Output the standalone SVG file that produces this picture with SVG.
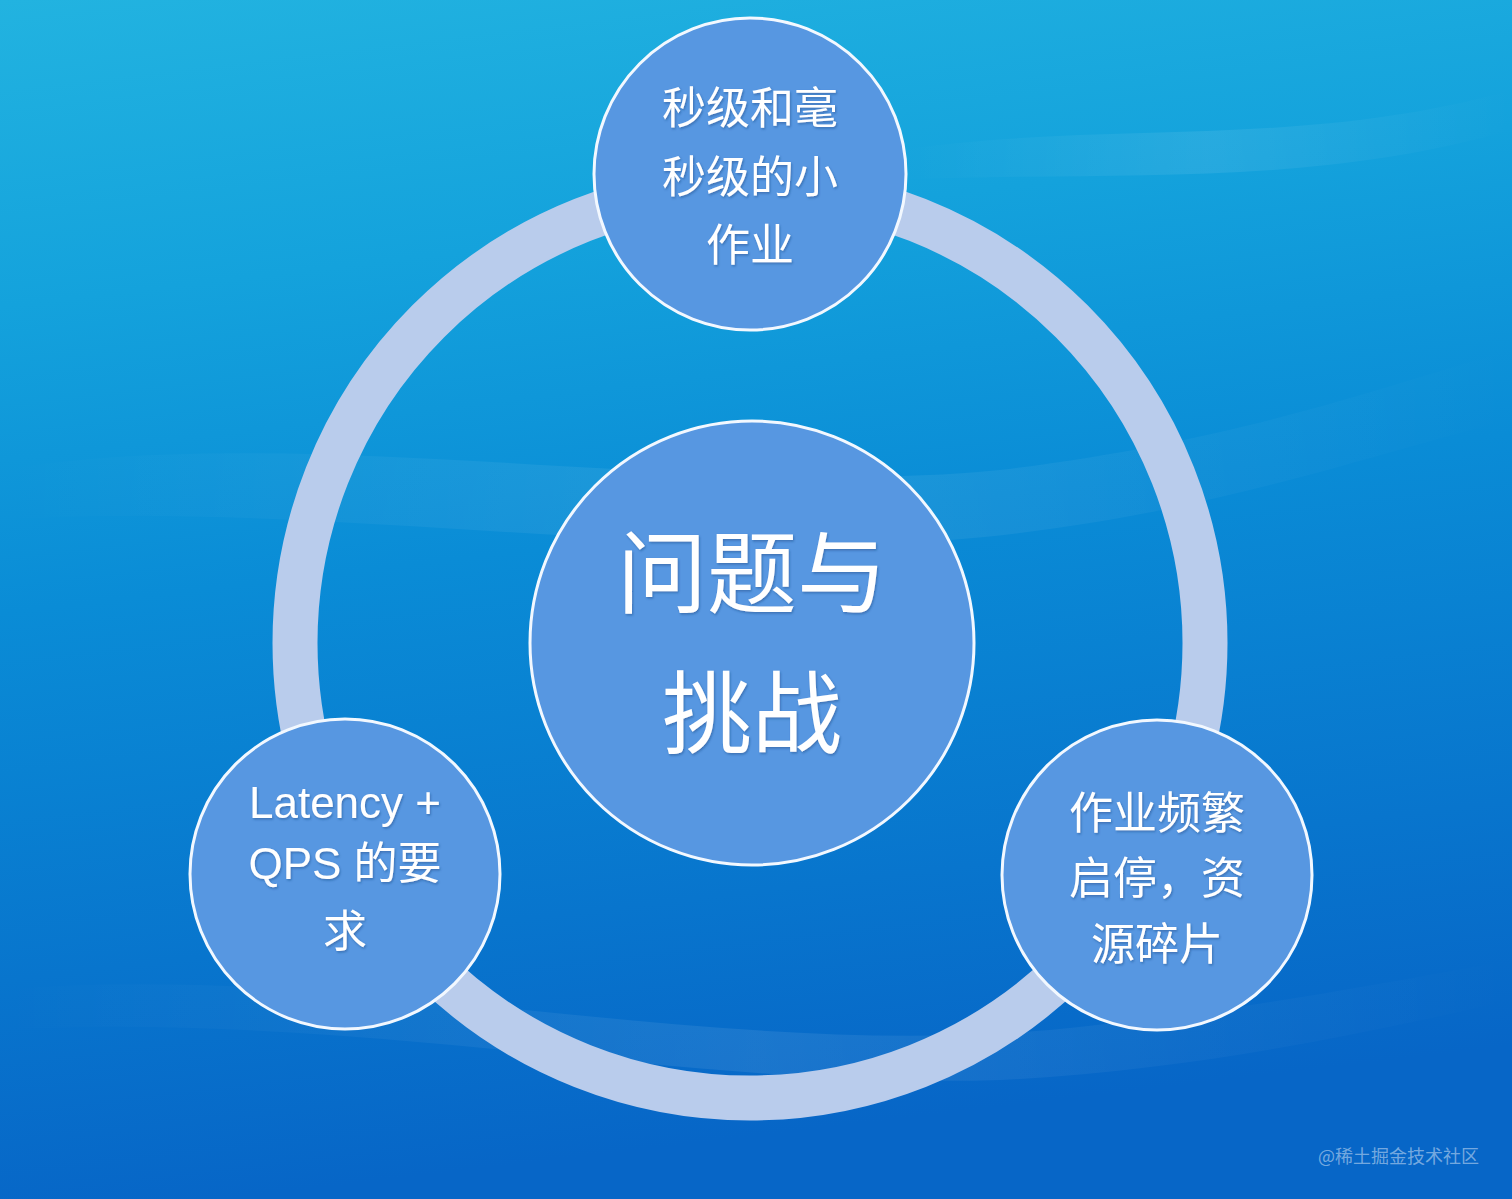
<svg xmlns="http://www.w3.org/2000/svg" width="1512" height="1199" viewBox="0 0 1512 1199">
  <defs>
    <linearGradient id="bg" x1="0" y1="0" x2="0.15" y2="1">
      <stop offset="0" stop-color="#22B3E0"/>
      <stop offset="0.25" stop-color="#14A2DC"/>
      <stop offset="0.5" stop-color="#0A8CD6"/>
      <stop offset="0.8" stop-color="#0875CD"/>
      <stop offset="1" stop-color="#0766C7"/>
    </linearGradient>
    <linearGradient id="wave" x1="0" y1="0" x2="1" y2="0">
      <stop offset="0" stop-color="#FFFFFF" stop-opacity="0"/>
      <stop offset="0.5" stop-color="#FFFFFF" stop-opacity="0.08"/>
      <stop offset="1" stop-color="#FFFFFF" stop-opacity="0"/>
    </linearGradient>
    <filter id="ts" x="-10%" y="-10%" width="120%" height="130%">
      <feDropShadow dx="1" dy="1.5" stdDeviation="1" flood-color="#1A3F7A" flood-opacity="0.45"/>
    </filter>
    <style>
      .node { fill: #5797E1; stroke: #F2F8FF; stroke-width: 3; }
      .ring { fill: none; stroke: #B9CCEC; stroke-width: 45; }
      .lbl { fill: #FFFFFF; font-family: "Liberation Sans", "Noto Sans CJK SC", sans-serif; text-anchor: middle; filter: url(#ts); }
      .big { font-size: 90px; }
      .mid { font-size: 44px; }
      .wm { fill: #FFFFFF; fill-opacity: 0.45; font-family: "Noto Sans CJK SC", sans-serif; font-size: 18px; }
    </style>
  </defs>

  <rect x="0" y="0" width="1512" height="1199" fill="url(#bg)"/>
  <path d="M 0 470 C 300 420 700 500 1000 470 C 1250 440 1400 380 1512 350 L 1512 420 C 1380 450 1200 520 950 540 C 650 560 300 500 0 520 Z" fill="url(#wave)"/>
  <path d="M 0 990 C 350 960 700 1060 1050 1030 C 1250 1010 1400 980 1512 960 L 1512 1000 C 1380 1030 1200 1070 1000 1080 C 700 1090 350 1010 0 1030 Z" fill="url(#wave)"/>
  <path d="M 900 150 C 1100 120 1300 150 1512 90 L 1512 130 C 1300 190 1100 170 900 180 Z" fill="url(#wave)"/>

  <g id="connectors">
    <circle class="ring" cx="750" cy="643" r="455"/>
  </g>

  <g id="node-center">
    <circle class="node" cx="752" cy="643" r="222"/>
    <text class="lbl big" x="752" y="606">问题与</text>
    <text class="lbl big" x="752" y="746">挑战</text>
  </g>

  <g id="node-top">
    <circle class="node" cx="750" cy="174" r="156"/>
    <text class="lbl mid" x="750" y="124">秒级和毫</text>
    <text class="lbl mid" x="750" y="193">秒级的小</text>
    <text class="lbl mid" x="750" y="261">作业</text>
  </g>

  <g id="node-left">
    <circle class="node" cx="345" cy="874" r="155"/>
    <text class="lbl mid" x="345" y="818">Latency +</text>
    <text class="lbl mid" x="345" y="879">QPS 的要</text>
    <text class="lbl mid" x="345" y="947">求</text>
  </g>

  <g id="node-right">
    <circle class="node" cx="1157" cy="875" r="155"/>
    <text class="lbl mid" x="1157" y="829">作业频繁</text>
    <text class="lbl mid" x="1157" y="894">启停，资</text>
    <text class="lbl mid" x="1157" y="960">源碎片</text>
  </g>

  <text class="wm" x="1318" y="1163">@稀土掘金技术社区</text>
</svg>
